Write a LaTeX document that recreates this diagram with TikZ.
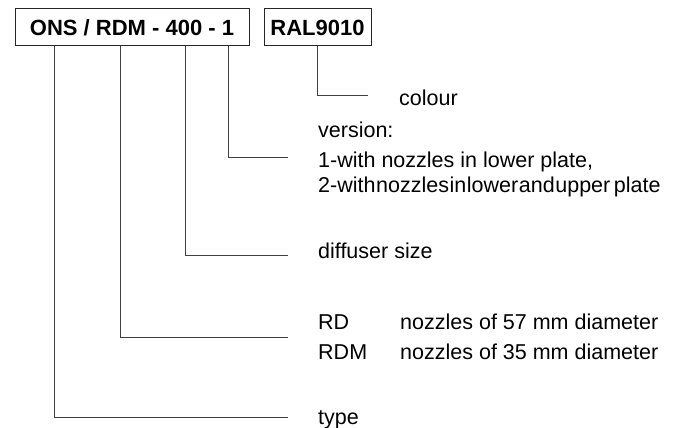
\documentclass[tikz,border=0pt]{standalone}
\usepackage{fontspec}
\setmainfont{Liberation Sans}
\begin{document}
\begin{tikzpicture}[x=1pt,y=-1pt,
  lbl/.style={inner sep=0pt,anchor=base west,font=\fontsize{21.5}{25}\selectfont},
  codebox/.style={draw=black!85,line width=1pt,inner sep=0pt,minimum height=37pt,font=\fontsize{22}{26}\selectfont\bfseries},
  conn/.style={draw=black!75,line width=1pt}]
\useasboundingbox (0,0) rectangle (677,428);
% code boxes
\node[codebox,minimum width=234pt] (b1) at (132,27.5) {ONS / RDM - 400 - 1};
\node[codebox,minimum width=107pt] (b2) at (317.5,27.5) {RAL9010};
% labels
\node[lbl] (colour) at (399,105) {colour};
\node[lbl] (version) at (318,137) {version:};
\node[lbl] (v1) at (318,167) {1-with nozzles in lower plate,};
\node[lbl] (v2) at (318,192) {{\spaceskip=0.6pt\relax 2-with nozzles in lower and upper\hspace{3pt} plate}};
\node[lbl] (size) at (318,258) {diffuser size};
\node[lbl] (rd) at (318,329) {RD};
\node[lbl] (rdtxt) at (400,329) {nozzles of 57 mm diameter};
\node[lbl] (rdm) at (318,359) {RDM};
\node[lbl] (rdmtxt) at (400,359) {nozzles of 35 mm diameter};
\node[lbl] (type) at (318,424) {type};
% connector ends
\coordinate (ecolour) at (368,95);
\coordinate (eversion) at (288,157);
\coordinate (esize) at (288,255);
\coordinate (erd) at (288,337);
\coordinate (etype) at (288,417);
% connectors
\draw[conn] (b2.south) |- (ecolour);
\draw[conn] ([xshift=214pt]b1.south west) |- (eversion);
\draw[conn] ([xshift=171pt]b1.south west) |- (esize);
\draw[conn] ([xshift=106pt]b1.south west) |- (erd);
\draw[conn] ([xshift=40pt]b1.south west) |- (etype);
\end{tikzpicture}
\end{document}
